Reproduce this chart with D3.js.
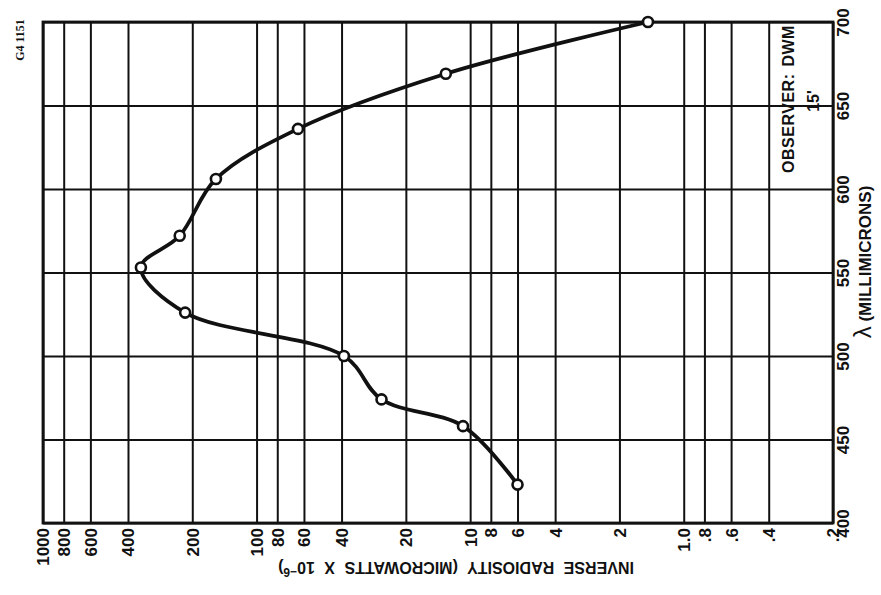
<!DOCTYPE html>
<html>
<head>
<meta charset="utf-8">
<script src="https://cdn.jsdelivr.net/npm/d3@7"></script>
<style>
  html, body { margin: 0; padding: 0; background: #fff; }
  svg { display: block; }
  text { font-family: "Liberation Sans", Arial, sans-serif; font-weight: bold; fill: #111; }
</style>
</head>
<body>
<svg id="chart" width="881" height="595"></svg>
<script>
// ---- data ----
const wavelengths = [423, 458, 474, 500, 526, 553, 572, 606, 636, 669, 700];
const inverseRadiosity = [6.0, 10.8, 26, 39, 216, 348, 229, 155, 64, 13.0, 1.47];
const radiosityTicks = [1000, 800, 600, 400, 200, 100, 80, 60, 40, 20, 10, 8, 6, 4, 2, 1, 0.8, 0.6, 0.4, 0.2];
const radiosityTickLabels = ["1000", "800", "600", "400", "200", "100", "80", "60", "40", "20", "10", "8", "6", "4", "2", "1.0", ".8", ".6", ".4", ".2"];
const wavelengthTicks = [400, 450, 500, 550, 600, 650, 700];
const wavelengthTickLabels = ["400", "450", "500", "550", "600", "650", "700"];

// ---- layout ----
const L = 43, R = 833, T = 22, B = 523;
const svg = d3.select("#chart");

const x = d3.scaleLog().domain([1000, 0.2]).range([L, R]);
const y = d3.scaleLinear().domain([400, 700]).range([B, T]);

// bottom axis (log inverse radiosity) with vertical grid lines
const xAxis = d3.axisBottom(x)
  .tickValues(radiosityTicks)
  .tickFormat((d, i) => radiosityTickLabels[i])
  .tickSizeInner(-(B - T))
  .tickSizeOuter(0);

const gx = svg.append("g").attr("transform", `translate(0,${B})`).call(xAxis);
gx.select(".domain").remove();
gx.selectAll(".tick line").attr("stroke", "#111").attr("stroke-width", 2);
gx.selectAll(".tick text")
  .attr("transform", "rotate(-90)")
  .attr("x", -5).attr("y", 0).attr("dy", "0.35em")
  .attr("text-anchor", "end")
  .style("font-size", "17px");

// right axis (wavelength) with horizontal grid lines
const yAxis = d3.axisRight(y)
  .tickValues(wavelengthTicks)
  .tickFormat((d, i) => wavelengthTickLabels[i])
  .tickSizeInner(-(R - L))
  .tickSizeOuter(0);

const gy = svg.append("g").attr("transform", `translate(${R},0)`).call(yAxis);
gy.select(".domain").remove();
gy.selectAll(".tick line").attr("stroke", "#111").attr("stroke-width", 2);
gy.selectAll(".tick text")
  .attr("transform", "translate(16,0) rotate(-90)")
  .attr("x", 0).attr("y", 0).attr("dy", 0)
  .attr("text-anchor", "middle")
  .style("font-size", "17px");

// frame
svg.append("rect")
  .attr("x", L).attr("y", T).attr("width", R - L).attr("height", B - T)
  .attr("fill", "none").attr("stroke", "#111").attr("stroke-width", 2.8);

// curve
const pts = wavelengths.map((w, i) => ({ w, v: inverseRadiosity[i] }));
const line = d3.line()
  .x(d => x(d.v))
  .y(d => y(d.w))
  .curve(d3.curveCatmullRom.alpha(0.5));

svg.append("path")
  .datum(pts)
  .attr("d", line)
  .attr("fill", "none")
  .attr("stroke", "#111")
  .attr("stroke-width", 3.8)
  .attr("stroke-linecap", "round");

svg.selectAll("circle.pt")
  .data(pts)
  .enter().append("circle")
  .attr("class", "pt")
  .attr("cx", d => x(d.v))
  .attr("cy", d => y(d.w))
  .attr("r", 5)
  .attr("fill", "#fff")
  .attr("stroke", "#111")
  .attr("stroke-width", 2.6);

// labels
svg.append("text")
  .attr("transform", "translate(871,262) rotate(-90)")
  .attr("text-anchor", "middle")
  .style("font-size", "17px")
  .html('<tspan style="font-size:24px;font-weight:normal">λ</tspan> (MILLIMICRONS)');

svg.append("text")
  .attr("transform", "translate(794,99) rotate(-90)")
  .attr("text-anchor", "middle")
  .style("font-size", "16px")
  .style("letter-spacing", "0.5px")
  .style("word-spacing", "2px")
  .text("OBSERVER: DWM");

svg.append("text")
  .attr("transform", "translate(819,101) rotate(-90)")
  .attr("text-anchor", "middle")
  .style("font-size", "16px")
  .text("15'");

svg.append("text")
  .attr("transform", "translate(456,562) rotate(180)")
  .attr("text-anchor", "middle")
  .style("font-size", "16px")
  .style("word-spacing", "5px")
  .html('INVERSE RADIOSITY (MICROWATTS X 10<tspan dy="-6" style="font-size:12px">−6</tspan><tspan dy="6">)</tspan>');

svg.append("text")
  .attr("transform", "translate(24,40) rotate(-90)")
  .attr("text-anchor", "middle")
  .style("font-family", "'Liberation Serif', serif")
  .style("font-weight", "bold")
  .style("font-size", "12px")
  .text("G4 1151");
</script>
</body>
</html>
